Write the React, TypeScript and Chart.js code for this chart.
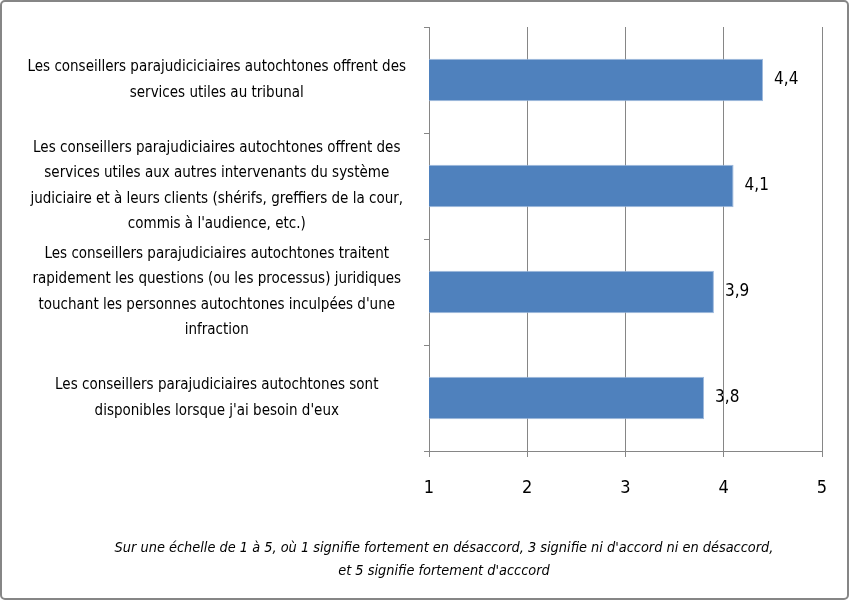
import React, { useEffect, useRef } from "react";
import { Chart, registerables } from "chart.js";

Chart.register(...registerables);

const categories: string[][] = [
  ["Les conseillers parajudiciciaires autochtones offrent des", "services utiles au tribunal"],
  [
    "Les conseillers parajudiciaires autochtones offrent des",
    "services utiles aux autres intervenants du système",
    "judiciaire et à leurs clients (shérifs, greffiers de la cour,",
    "commis à l'audience, etc.)",
  ],
  [
    "Les conseillers parajudiciaires autochtones traitent",
    "rapidement les questions (ou les processus) juridiques",
    "touchant les personnes autochtones inculpées d'une",
    "infraction",
  ],
  ["Les conseillers parajudiciaires autochtones sont", "disponibles lorsque j'ai besoin d'eux"],
];
const values: number[] = [4.4, 4.1, 3.9, 3.8];
const xTicks: number[] = [1, 2, 3, 4, 5];
const captionLines: string[] = [
  "Sur une échelle de 1 à 5, où 1 signifie fortement en désaccord, 3 signifie ni d'accord ni en désaccord,",
  "et 5 signifie fortement d'acccord",
];

const FONT = "'Liberation Sans Narrow', 'DejaVu Sans Condensed', 'Arial Narrow', sans-serif";
const GRID = "#868686";

export default function App() {
  const ref = useRef<HTMLCanvasElement | null>(null);
  useEffect(() => {
    if (!ref.current) return;
    const framePlugin = {
      id: "frame",
      beforeDraw(chart: any) {
        const ctx = chart.ctx;
        ctx.save();
        ctx.fillStyle = "#ffffff";
        ctx.fillRect(0, 0, chart.width, chart.height);
        ctx.strokeStyle = GRID;
        ctx.lineWidth = 2;
        ctx.beginPath();
        (ctx as any).roundRect ? (ctx as any).roundRect(1, 1, chart.width - 3, chart.height - 3, 4) : ctx.rect(1, 1, chart.width - 3, chart.height - 3);
        ctx.stroke();
        ctx.restore();
      },
      afterDraw(chart: any) {
        const ctx = chart.ctx;
        ctx.save();
        ctx.fillStyle = "#000";
        ctx.font = `italic 14.4px ${FONT}`;
        ctx.textAlign = "center";
        ctx.textBaseline = "middle";
        captionLines.forEach((l, i) => ctx.fillText(l, 444, 548 + i * 23));
        ctx.restore();
      },
    };
    const labelPlugin = {
      id: "vlabels",
      afterDatasetsDraw(chart: any) {
        const ctx = chart.ctx;
        const meta = chart.getDatasetMeta(0);
        ctx.save();
        ctx.fillStyle = "#000";
        ctx.font = `17px ${FONT}`;
        ctx.textAlign = "left";
        ctx.textBaseline = "middle";
        meta.data.forEach((bar: any, i: number) => {
          ctx.fillText(values[i].toFixed(1).replace(".", ","), bar.x + 11, bar.y);
        });
        ctx.restore();
      },
    };
    const chart = new Chart(ref.current, {
      type: "bar",
      data: {
        labels: categories,
        datasets: [
          {
            data: values,
            backgroundColor: "#4F81BD",
            borderColor: "#9DB9DD",
            borderWidth: 1,
            categoryPercentage: 1,
            barPercentage: 0.4,
          },
        ],
      },
      plugins: [framePlugin, labelPlugin],
      options: {
        indexAxis: "y",
        animation: false,
        responsive: false,
        devicePixelRatio: 1,
        layout: { padding: { top: 27, right: 28, left: 0, bottom: 0 } },
        plugins: { legend: { display: false }, tooltip: { enabled: false } },
        scales: {
          x: {
            min: 1,
            max: 5,
            afterBuildTicks(scale: any) {
              scale.ticks = xTicks.map((v) => ({ value: v }));
            },
            afterFit(scale: any) {
              scale.height = 150;
              scale.paddingLeft = 0;
              scale.paddingRight = 0;
            },
            grid: { color: GRID, lineWidth: 1, tickLength: 6 },
            border: { color: GRID, width: 1 },
            ticks: { color: "#000", font: { family: FONT, size: 18 }, padding: 21 },
          },
          y: {
            afterFit(scale: any) {
              scale.width = 429;
              scale.paddingTop = 0;
              scale.paddingBottom = 0;
            },
            grid: { color: GRID, drawOnChartArea: false, tickLength: 5, offset: true },
            border: { color: GRID, width: 1 },
            ticks: {
              autoSkip: false,
              color: "#000",
              crossAlign: "center",
              padding: 18,
              font: { family: FONT, size: 15, lineHeight: 1.7 },
            },
          },
        },
      },
    } as any);
    return () => chart.destroy();
  }, []);
  return (
    <div style={{ position: "fixed", left: 0, top: 0, width: 850, height: 601 }}>
      <canvas ref={ref} width={850} height={601} style={{ width: 850, height: 601 }} />
    </div>
  );
}
